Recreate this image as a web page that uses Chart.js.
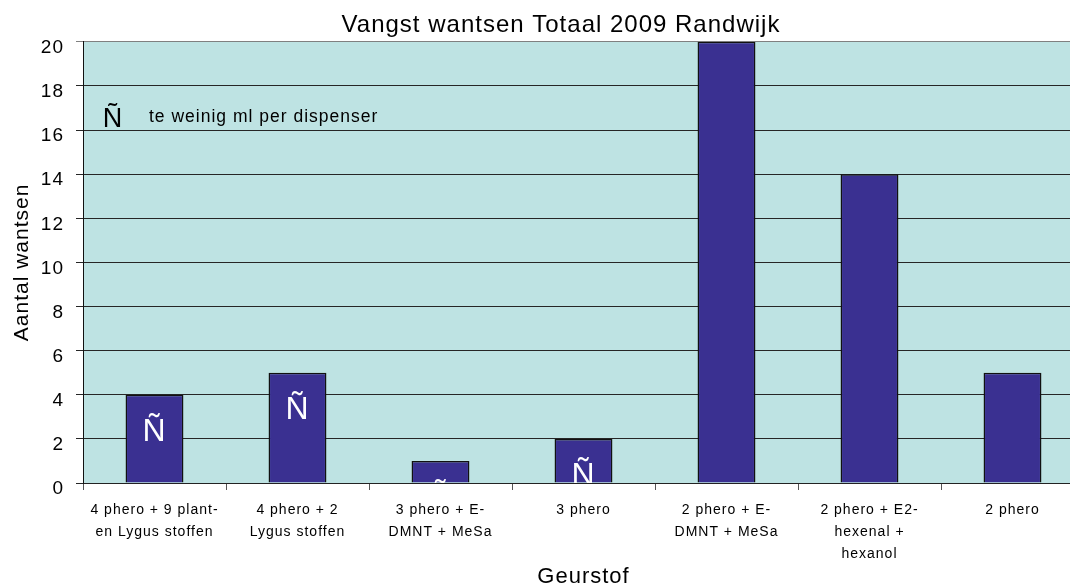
<!DOCTYPE html>
<html>
<head>
<meta charset="utf-8">
<title>Vangst wantsen Totaal 2009 Randwijk</title>
<script src="https://cdn.jsdelivr.net/npm/chart.js@4.4.1/dist/chart.umd.min.js"></script>
<style>
    html, body { margin: 0; padding: 0; background: #fff; overflow: hidden; }
    #wrap { width: 1070px; height: 588px; overflow: hidden; }
    canvas { display: block; }
</style>
</head>
<body>
<div id="wrap"><canvas id="vangstChart" width="1122" height="588"></canvas></div>
<script>
// Data
const categories = [
    ["4 phero + 9 plant-", "en Lygus stoffen"],
    ["4 phero + 2", "Lygus stoffen"],
    ["3 phero + E-", "DMNT + MeSa"],
    "3 phero",
    ["2 phero + E-", "DMNT + MeSa"],
    ["2 phero + E2-", "hexenal +", "hexanol"],
    "2 phero"
];
const catches = [4, 5, 1, 2, 20, 14, 5];
const tooLittle = [true, true, true, true, false, false, false];
const yMin = 0;
const yMax = 20;
const yStep = 2;

const chartTitle = "Vangst wantsen Totaal 2009 Randwijk";
const xTitle = "Geurstof";
const yTitle = "Aantal wantsen";
const markSymbol = "\u00D1";
const markNote = "te weinig ml per dispenser";

const FONT = "'Liberation Sans', Arial, Helvetica, sans-serif";
Chart.defaults.font.family = FONT;
Chart.defaults.color = "#000";

// Plot background, symbols in the bars and the note
const plotExtras = {
    id: "plotExtras",
    beforeDraw(chart) {
        const { ctx, chartArea: a } = chart;
        ctx.letterSpacing = "1px";
        ctx.save();
        ctx.fillStyle = "#bee3e3";
        ctx.fillRect(a.left, a.top, a.right - a.left, a.bottom - a.top);
        ctx.restore();
    },
    afterDatasetsDraw(chart) {
        const { ctx, chartArea: a } = chart;
        const meta = chart.getDatasetMeta(0);
        ctx.save();
        ctx.beginPath();
        ctx.rect(a.left, a.top, a.right - a.left, a.bottom - a.top);
        ctx.clip();

        ctx.fillStyle = "#fff";
        ctx.font = "32px " + FONT;
        ctx.textAlign = "center";
        ctx.textBaseline = "alphabetic";
        meta.data.forEach((bar, i) => {
            if (tooLittle[i]) ctx.fillText(markSymbol, bar.x, bar.y + 46);
        });

        ctx.fillStyle = "#000";
        ctx.font = "27px " + FONT;
        ctx.fillText(markSymbol, a.left + 30, a.top + 85);
        ctx.textAlign = "left";
        ctx.font = "17.5px " + FONT;
        ctx.fillText(markNote, a.left + 66, a.top + 80);
        ctx.restore();
    }
};

const ctx = document.getElementById("vangstChart").getContext("2d");
new Chart(ctx, {
    type: "bar",
    data: {
        labels: categories,
        datasets: [{
            label: yTitle,
            data: catches,
            xAxisID: "x",
            yAxisID: "y",
            backgroundColor: "#3a3091",
            borderColor: "#111",
            borderWidth: 1.5,
            barPercentage: 0.405,
            categoryPercentage: 1
        }]
    },
    options: {
        responsive: false,
        animation: false,
        devicePixelRatio: 1,
        layout: { padding: 0 },
        plugins: {
            legend: { display: false },
            tooltip: { enabled: false },
            title: {
                display: true,
                text: chartTitle,
                color: "#000",
                font: { size: 24, weight: "normal", lineHeight: 1.2 },
                padding: { top: 11, bottom: 2 }
            }
        },
        scales: {
            x: {
                grid: {
                    offset: true,
                    drawOnChartArea: false,
                    drawTicks: true,
                    tickLength: 7,
                    color: "#555"
                },
                border: { color: "#222", width: 1 },
                ticks: {
                    autoSkip: false,
                    maxRotation: 0,
                    minRotation: 0,
                    padding: 9,
                    color: "#000",
                    font: { size: 14, lineHeight: 22 / 14 }
                },
                title: {
                    display: true,
                    text: xTitle,
                    color: "#000",
                    font: { size: 22, lineHeight: 1 },
                    padding: { top: 0, bottom: 0 }
                },
                afterFit(scale) { scale.height = 105; }
            },
            y: {
                position: "left",
                min: yMin,
                max: yMax,
                grid: {
                    tickLength: 7,
                    lineWidth: 1,
                    color: c => (c.tick && c.tick.value === yMax ? "#808080" : "#262626")
                },
                border: { color: "#111", width: 1 },
                ticks: {
                    stepSize: yStep,
                    padding: 12,
                    labelOffset: 6,
                    color: "#000",
                    font: { size: 19 }
                },
                title: {
                    display: true,
                    text: yTitle,
                    color: "#000",
                    font: { size: 21, lineHeight: 1.2 },
                    padding: { top: 10, bottom: 0 }
                },
                afterFit(scale) { scale.width = 83; }
            },
            yRight: {
                position: "right",
                grid: { display: false },
                border: { display: false },
                ticks: { display: false },
                afterFit(scale) { scale.width = 38; }
            }
        }
    },
    plugins: [plotExtras]
});
</script>
</body>
</html>
